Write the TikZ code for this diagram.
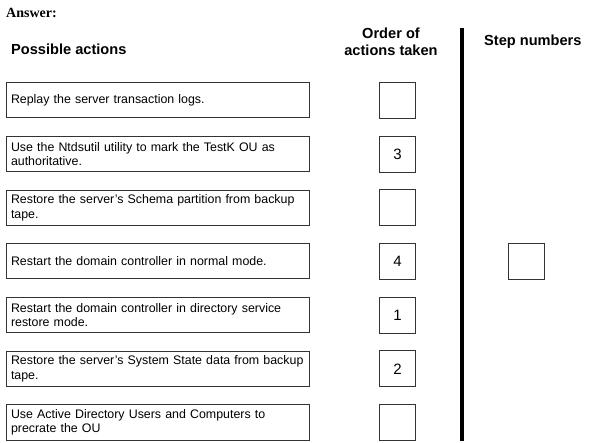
\documentclass[tikz,border=0pt]{standalone}
\usepackage{fontspec}
\setmainfont{Liberation Sans}
\newfontfamily\answerfont{Liberation Serif}
\tikzset{
  actionbox/.style={draw=black!80,line width=1pt,minimum width=303pt,minimum height=35pt,
    text width=293pt,inner xsep=5pt,align=left,font=\fontsize{12.4}{14.5}\selectfont},
  orderbox/.style={draw=black!80,line width=1pt,minimum width=36pt,minimum height=36pt,
    inner sep=0pt,font=\fontsize{15}{15}\selectfont},
  heading/.style={font=\fontsize{14.6}{16.5}\selectfont\bfseries,inner sep=0pt}
}
\begin{document}
\begin{tikzpicture}[x=1pt,y=-1pt]
\useasboundingbox (0,0) rectangle (589,443);
% headings
\node[anchor=west,inner sep=0pt,font=\answerfont\fontsize{14}{14}\selectfont\bfseries] (answer) at (6,13) {Answer:};
\node[heading,anchor=west] (possible) at (11,49) {Possible actions};
\node[heading,align=center] (order) at (391,42) {Order of\\actions taken};
\node[heading,anchor=west] (steps) at (484,42) {Step numbers};
% actions
\node[actionbox] (a1) at (157.5,100.5) {Replay the server transaction logs.};
\node[actionbox] (a2) at (157.5,154.2) {Use the Ntdsutil utility to mark the TestK OU as\\authoritative.};
\node[actionbox] (a3) at (157.5,207.8) {Restore the server's Schema partition from backup\\tape.};
\node[actionbox] (a4) at (157.5,261.5) {Restart the domain controller in normal mode.};
\node[actionbox] (a5) at (157.5,315.2) {Restart the domain controller in directory service\\restore mode.};
\node[actionbox] (a6) at (157.5,368.8) {Restore the server's System State data from backup\\tape.};
\node[actionbox] (a7) at (157.5,422.5) {Use Active Directory Users and Computers to\\precrate the OU};
% order of actions
\node[orderbox] (o1) at (397.5,100.5) {};
\node[orderbox] (o2) at (397.5,154.2) {3};
\node[orderbox] (o3) at (397.5,207.8) {};
\node[orderbox] (o4) at (397.5,261.5) {4};
\node[orderbox] (o5) at (397.5,315.2) {1};
\node[orderbox] (o6) at (397.5,368.8) {2};
\node[orderbox] (o7) at (397.5,422.5) {};
% separator and step numbers
\draw[line width=3.5pt] (462,28) -- (462,441);
\node[orderbox] (s1) at (526,261.5) {};
\end{tikzpicture}
\end{document}
